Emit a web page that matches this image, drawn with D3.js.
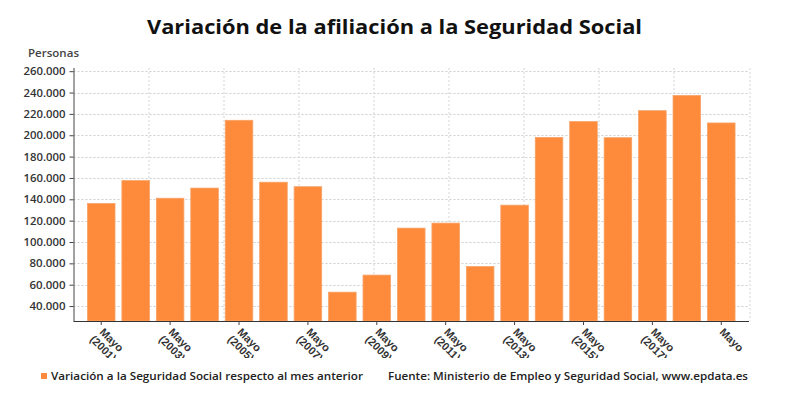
<!DOCTYPE html>
<html>
<head>
<meta charset="utf-8">
<script src="https://cdn.jsdelivr.net/npm/d3@7"></script>
<style>
  body { margin: 0; background: #fff; }
  svg { font-family: "Open Sans", sans-serif; }
</style>
</head>
<body>
<svg id="chart" width="790" height="420"></svg>
<script>
// data
const years = [2001, 2002, 2003, 2004, 2005, 2006, 2007, 2008, 2009, 2010,
               2011, 2012, 2013, 2014, 2015, 2016, 2017, 2018, 2019];
const values = [136000, 157500, 141000, 150500, 214000, 156000, 151800, 53000, 69000, 113000,
                117700, 77000, 134500, 198000, 212800, 197700, 223000, 237200, 211500];
const tickLabels = ["Mayo (2001)", "Mayo (2003)", "Mayo (2005)", "Mayo (2007)", "Mayo (2009)",
                    "Mayo (2011)", "Mayo (2013)", "Mayo (2015)", "Mayo (2017)", "Mayo"];
const yTicks = [40000, 60000, 80000, 100000, 120000, 140000, 160000, 180000,
                200000, 220000, 240000, 260000];

const margin = { top: 68, right: 41, bottom: 99, left: 73.5 };
const width = 790 - margin.left - margin.right;
const height = 420 - margin.top - margin.bottom;

const svg = d3.select("#chart");

// the reference looks stretched sideways, so texts get a fixed length
svg.append("text")
  .attr("x", 147).attr("y", 34)
  .attr("font-size", 20).attr("font-weight", "bold")
  .attr("fill", "#111")
  .attr("textLength", 495).attr("lengthAdjust", "spacingAndGlyphs")
  .text("Variación de la afiliación a la Seguridad Social");

svg.append("text")
  .attr("x", 28).attr("y", 57)
  .attr("font-size", 11).attr("font-weight", 600).attr("fill", "#444")
  .attr("textLength", 51).attr("lengthAdjust", "spacingAndGlyphs")
  .text("Personas");

const g = svg.append("g")
  .attr("transform", "translate(" + margin.left + "," + margin.top + ")");

const x = d3.scaleBand().domain(years).range([0, width])
  .paddingInner(0.2).paddingOuter(0.405);
const y = d3.scaleLinear().domain([26000, 263000]).range([height, 0]);
// vertical grid in the original is just evenly spaced, not tied to bars
const gx = d3.scaleLinear().domain([0, 9]).range([0, width]);

const fmt = n => d3.format(",")(n).replace(/,/g, ".");

// grid
g.append("g")
  .selectAll("line.h")
  .data(yTicks)
  .enter().append("line")
  .attr("x1", 0).attr("x2", width)
  .attr("y1", d => Math.round(y(d)) + 0.5).attr("y2", d => Math.round(y(d)) + 0.5)
  .attr("stroke", "#cfcfcf").attr("stroke-dasharray", "2,2");

g.append("g")
  .selectAll("line.v")
  .data(d3.range(1, 10))
  .enter().append("line")
  .attr("x1", d => Math.round(gx(d)) + 0.5).attr("x2", d => Math.round(gx(d)) + 0.5)
  .attr("y1", 0).attr("y2", height)
  .attr("stroke", "#d5d5d5").attr("stroke-dasharray", "2,2");

// bars
g.selectAll(".bar")
  .data(values)
  .enter().append("rect")
  .attr("class", "bar")
  .attr("x", (d, i) => x(years[i]))
  .attr("y", d => y(d))
  .attr("width", x.bandwidth())
  .attr("height", d => height - y(d))
  .attr("fill", "#fe8b3c")
  .attr("stroke", "#f7a266")
  .attr("stroke-width", 0.8);

// y axis
const yAxis = g.append("g")
  .call(d3.axisLeft(y).tickValues(yTicks).tickFormat(fmt).tickSize(4).tickPadding(4));
yAxis.select(".domain").attr("stroke", "#444").attr("d", "M0.5,0V" + height);
yAxis.selectAll(".tick line").attr("stroke", "#444");
yAxis.selectAll("text")
  .attr("font-size", 11).attr("font-weight", 600).attr("fill", "#333")
  .attr("font-family", "Open Sans, sans-serif")
  .attr("textLength", 42).attr("lengthAdjust", "spacingAndGlyphs");
yAxis.selectAll("text").filter(d => d < 100000).attr("textLength", 36);

// x axis
const labelYears = years.filter((d, i) => i % 2 === 0);
const xAxis = g.append("g")
  .attr("transform", "translate(0," + height + ")")
  .call(d3.axisBottom(x).tickValues(labelYears).tickSize(4).tickFormat(""));
xAxis.select(".domain").attr("stroke", "#333").attr("d", "M0,0.5H" + width);
xAxis.selectAll(".tick line").attr("stroke", "#444");

svg.append("clipPath").attr("id", "lblclip")
  .append("rect").attr("x", -20).attr("y", 0).attr("width", 830).attr("height", 37);

const lbl = xAxis.append("g").attr("clip-path", "url(#lblclip)");
labelYears.forEach((yr, i) => {
  const parts = tickLabels[i].split(" ");
  const t = lbl.append("text")
    .attr("transform", "translate(" + (x(yr) + x.bandwidth() / 2) + ",4) rotate(45)")
    .attr("text-anchor", "middle")
    .attr("font-size", 11).attr("font-weight", 600).attr("fill", "#333");
  parts.forEach((p, j) => {
    t.append("tspan").attr("x", 18).attr("y", 7 + j * 12).text(p);
  });
});

// legend + source
svg.append("rect")
  .attr("x", 41).attr("y", 373).attr("width", 6).attr("height", 6)
  .attr("fill", "#fe8b3c");
svg.append("text")
  .attr("x", 51).attr("y", 379.5)
  .attr("font-size", 11).attr("font-weight", 600).attr("fill", "#222")
  .attr("textLength", 312).attr("lengthAdjust", "spacingAndGlyphs")
  .text("Variación a la Seguridad Social respecto al mes anterior");
svg.append("text")
  .attr("x", 388).attr("y", 379.5)
  .attr("font-size", 11).attr("font-weight", 600).attr("fill", "#222")
  .attr("textLength", 360).attr("lengthAdjust", "spacingAndGlyphs")
  .text("Fuente: Ministerio de Empleo y Seguridad Social, www.epdata.es");
</script>
</body>
</html>
